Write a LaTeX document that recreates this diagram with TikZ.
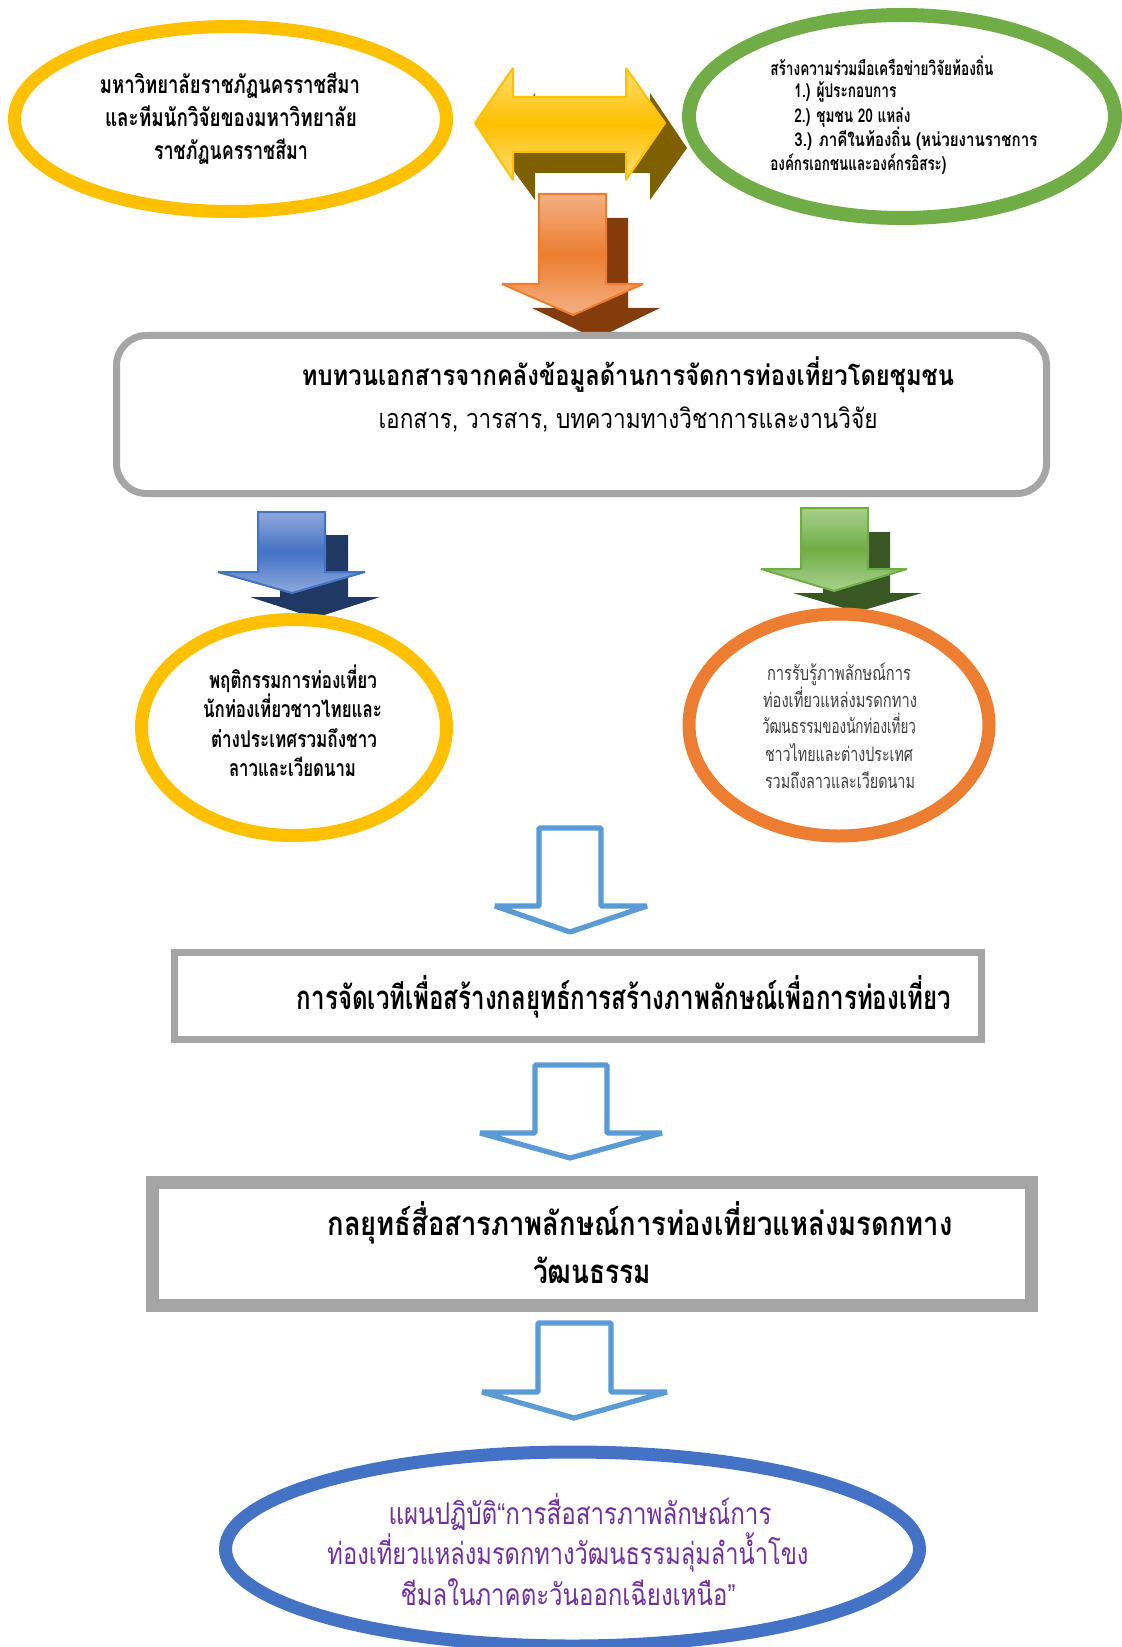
\documentclass[tikz,border=0pt]{standalone}
\usepackage{fontspec}
\usepackage{graphicx}
\usetikzlibrary{shapes.geometric}
\newfontfamily\thai[Script=Thai]{Loma}
\newfontfamily\qf{Liberation Sans}
\definecolor{ylw}{HTML}{FFC000}
\definecolor{ylwl}{HTML}{FFDD77}
\definecolor{ylwd}{HTML}{7F6000}
\definecolor{grn}{HTML}{70AD47}
\definecolor{grnl}{HTML}{A9D18E}
\definecolor{grnd}{HTML}{385723}
\definecolor{org}{HTML}{ED7D31}
\definecolor{orgl}{HTML}{F4B183}
\definecolor{orgd}{HTML}{843C0C}
\definecolor{blu}{HTML}{4472C4}
\definecolor{blul}{HTML}{8FAADC}
\definecolor{blud}{HTML}{1F3864}
\definecolor{sky}{HTML}{5B9BD5}
\definecolor{gry}{HTML}{A5A5A5}
\definecolor{prp}{HTML}{7030A0}
\definecolor{dgr}{HTML}{404040}
\newcommand\tline[3]{\fontsize{#1}{#1}\selectfont\resizebox{#2}{\height}{#3}}
% vertical gradient: light at top and bottom, main colour in the middle
\newcommand\vgrad[7]{%
  \begin{scope}
    \clip #7;
    \foreach \i in {0,...,39}{
      \pgfmathsetmacro\ya{#5+\i*(#6-#5)/40}
      \pgfmathsetmacro\yb{#5+(\i+1.4)*(#6-#5)/40}
      \pgfmathtruncatemacro\mm{100*abs(2*(\i+0.5)/40-1)}
      \fill[#1!\mm!#2] (#3,\ya) rectangle (#4,\yb);
    }
  \end{scope}}
\tikzset{
  ell/.style={ellipse, inner sep=0pt, line width=6.5pt, fill=white},
  boxr/.style={rectangle, inner sep=0pt, draw=gry, fill=white},
  tx/.style={inner sep=0pt, anchor=base, font=\thai},
  txb/.style={inner sep=0pt, anchor=base, font=\thai\bfseries},
  outarrow/.style={draw=sky, line width=2.6pt, fill=white, line join=bevel},
  edge3d/.style={line width=1pt, line join=miter, miter limit=3},
}
\begin{document}
\begin{tikzpicture}[x=0.5pt,y=-0.5pt]
\useasboundingbox (0,0) rectangle (1122,1647);

% ---- yellow double arrow with shadow
\fill[ylwd] (497,148) -- (535,93) -- (535,122) -- (650,122) -- (650,93) -- (687,148)
   -- (650,200) -- (650,173) -- (535,173) -- (535,200) -- cycle;
\vgrad{ylwl}{ylw}{470}{670}{68}{180}{(475,123) -- (513,68) -- (513,97) -- (626,97) -- (626,68) -- (665,123)
   -- (626,180) -- (626,152) -- (513,152) -- (513,180) -- cycle}
\draw[ylw, edge3d] (475,123) -- (513,68) -- (513,97) -- (626,97) -- (626,68) -- (665,123)
   -- (626,180) -- (626,152) -- (513,152) -- (513,180) -- cycle;

% ---- orange down arrow with shadow
\fill[orgd] (561,218) -- (628,218) -- (628,308) -- (660,308) -- (596,339) -- (532,308) -- (561,308) -- cycle;
\vgrad{orgl}{org}{500}{645}{194}{315}{(539,194) -- (606,194) -- (606,284) -- (643,284) -- (573,315) -- (502,284) -- (539,284) -- cycle}
\draw[org, edge3d] (539,194) -- (606,194) -- (606,284) -- (643,284) -- (573,315) -- (502,284) -- (539,284) -- cycle;

% ---- box 1
\node[boxr, line width=3.5pt, rounded corners=15pt, minimum width=465pt, minimum height=79pt] (box1) at (581.5,414.5) {};
\node[txb] (t3a) at (628,386) {\tline{14}{326pt}{ทบทวนเอกสารจากคลังข้อมูลด้านการจัดการท่องเที่ยวโดยชุมชน}};
\node[tx] (t3b) at (628,428) {\tline{13.5}{249.5pt}{เอกสาร, วารสาร, บทความทางวิชาการและงานวิจัย}};

% ---- blue arrow with shadow
\fill[blud] (280,535) -- (348,535) -- (348,597) -- (380,597) -- (315,618) -- (250,597) -- (280,597) -- cycle;
\vgrad{blul}{blu}{215}{368}{512}{593}{(258,512) -- (325,512) -- (325,572) -- (365,572) -- (292,593) -- (218,572) -- (258,572) -- cycle}
\draw[blu, edge3d] (258,512) -- (325,512) -- (325,572) -- (365,572) -- (292,593) -- (218,572) -- (258,572) -- cycle;

% ---- green arrow with shadow
\fill[grnd] (823,532) -- (890,532) -- (890,593) -- (922,593) -- (857,612) -- (793,593) -- (823,593) -- cycle;
\vgrad{grnl}{grn}{758}{910}{508}{591}{(801,508) -- (868,508) -- (868,569) -- (907,569) -- (834,591) -- (761,569) -- (801,569) -- cycle}
\draw[grn, edge3d] (801,508) -- (868,508) -- (868,569) -- (907,569) -- (834,591) -- (761,569) -- (801,569) -- cycle;

% ---- top ellipses
\node[ell, draw=ylw, minimum width=216pt, minimum height=92.5pt] (e1) at (230.5,119) {};
\node[txb] (t1a) at (230,94) {\tline{12.3}{130pt}{มหาวิทยาลัยราชภัฏนครราชสีมา}};
\node[txb] (t1b) at (231,127) {\tline{12.3}{126pt}{และทีมนักวิจัยของมหาวิทยาลัย}};
\node[txb] (t1c) at (231,160) {\tline{12.3}{77pt}{ราชภัฏนครราชสีมา}};

\node[ell, draw=grn, line width=7pt, minimum width=213pt, minimum height=101.5pt] (e2) at (902,116.5) {};
\node[txb, anchor=base west] (t2a) at (770,76) {\tline{9.5}{111.5pt}{สร้างความร่วมมือเครือข่ายวิจัยท้องถิ่น}};
\node[txb, anchor=base west] (t2b) at (794,98) {\tline{9.5}{51pt}{1.) ผู้ประกอบการ}};
\node[txb, anchor=base west] (t2c) at (794,123) {\tline{9.5}{58pt}{2.) ชุมชน 20 แหล่ง}};
\node[txb, anchor=base west] (t2d) at (794,147) {\tline{9.5}{121.5pt}{3.) ภาคีในท้องถิ่น (หน่วยงานราชการ}};
\node[txb, anchor=base west] (t2e) at (770,171) {\tline{9.5}{88pt}{องค์กรเอกชนและองค์กรอิสระ)}};

% ---- middle ellipses
\node[ell, draw=ylw, minimum width=152.5pt, minimum height=108pt] (e3) at (294,727.5) {};
\node[txb] (t4a) at (293,688) {\tline{11.5}{84pt}{พฤติกรรมการท่องเที่ยว}};
\node[txb] (t4b) at (292.5,717) {\tline{11.5}{89.5pt}{นักท่องเที่ยวชาวไทยและ}};
\node[txb] (t4c) at (294,747) {\tline{11.5}{83pt}{ต่างประเทศรวมถึงชาว}};
\node[txb] (t4d) at (292.5,776) {\tline{11.5}{63.5pt}{ลาวและเวียดนาม}};

\node[ell, draw=org, minimum width=150pt, minimum height=111pt] (e4) at (839,725) {};
\node[tx, text=dgr] (t5a) at (839,680) {\tline{10}{72pt}{การรับรู้ภาพลักษณ์การ}};
\node[tx, text=dgr] (t5b) at (840,707) {\tline{10}{77pt}{ท่องเที่ยวแหล่งมรดกทาง}};
\node[tx, text=dgr] (t5c) at (839,733) {\tline{10}{77pt}{วัฒนธรรมของนักท่องเที่ยว}};
\node[tx, text=dgr] (t5d) at (839,761) {\tline{10}{74pt}{ชาวไทยและต่างประเทศ}};
\node[tx, text=dgr] (t5e) at (840,788) {\tline{10}{75pt}{รวมถึงลาวและเวียดนาม}};

% ---- outline arrow 1
\draw[outarrow] (539,828) -- (601,828) -- (601,906) -- (647,906) -- (570,932) -- (495,906) -- (539,906) -- cycle;

% ---- box 2
\node[boxr, line width=3.5pt, minimum width=403.5pt, minimum height=43.5pt] (box2) at (578,996) {};
\node[txb] (t6) at (624,1009) {\tline{16.5}{327pt}{การจัดเวทีเพื่อสร้างกลยุทธ์การสร้างภาพลักษณ์เพื่อการท่องเที่ยว}};

% ---- outline arrow 2
\draw[outarrow] (535,1065) -- (607,1065) -- (607,1133) -- (662,1133) -- (570,1158) -- (480,1133) -- (535,1133) -- cycle;

% ---- box 3
\node[boxr, line width=6.5pt, minimum width=439.5pt, minimum height=61.5pt] (box3) at (592,1244) {};
\node[txb] (t7a) at (640,1235) {\tline{16.5}{312.5pt}{กลยุทธ์สื่อสารภาพลักษณ์การท่องเที่ยวแหล่งมรดกทาง}};
\node[txb] (t7b) at (592,1283) {\tline{16.5}{59pt}{วัฒนธรรม}};

% ---- outline arrow 3
\draw[outarrow] (538,1323) -- (611,1323) -- (611,1392) -- (667,1392) -- (574,1418) -- (482,1392) -- (538,1392) -- cycle;

% ---- bottom ellipse
\node[ell, draw=blu, minimum width=347pt, minimum height=97pt] (e5) at (572.5,1549) {};
\node[tx, text=prp] (t8a) at (580,1524) {\tline{15}{191.5pt}{แผนปฏิบัติ{\qf “}การสื่อสารภาพลักษณ์การ}};
\node[tx, text=prp] (t8b) at (568,1564) {\tline{15}{240.5pt}{ท่องเที่ยวแหล่งมรดกทางวัฒนธรรมลุ่มลำน้ำโขง}};
\node[tx, text=prp] (t8c) at (568,1605) {\tline{15}{167.5pt}{ชีมลในภาคตะวันออกเฉียงเหนือ{\qf ”}}};
\end{tikzpicture}
\end{document}
